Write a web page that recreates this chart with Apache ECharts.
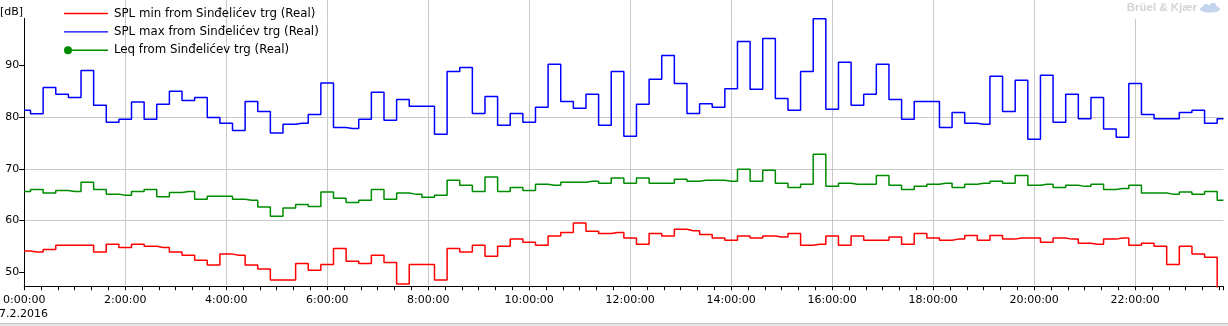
<!DOCTYPE html>
<html><head><meta charset="utf-8">
<script src="https://cdn.jsdelivr.net/npm/echarts@6/dist/echarts.min.js"></script>
<style>html,body{margin:0;padding:0;background:#fff;overflow:hidden}#c{width:1228px;height:326px}</style>
</head><body><div id="c"></div>
<script>
const seriesNames = [
  'SPL min from Sinđelićev trg (Real)',
  'SPL max from Sinđelićev trg (Real)',
  'Leq from Sinđelićev trg (Real)'
];
const stepMinutes = 15;
const endMinute = 1425;
const splMin = [
  54.1,53.9,54.4,55.2,55.2,55.2,53.9,55.4,54.8,55.4,55.0,54.8,53.9,53.3,52.3,51.4,
  53.5,53.3,51.4,50.6,48.5,48.5,51.7,50.4,51.5,54.6,52.1,51.7,53.3,51.9,47.7,51.5,
  51.5,48.5,54.6,53.9,55.2,53.1,55.0,56.4,55.8,55.2,57.0,57.7,59.5,57.9,57.5,57.7,
  56.6,55.4,57.5,57.0,58.3,58.0,57.3,56.6,56.2,57.0,56.6,57.0,56.8,57.5,55.2,55.4,
  57.0,55.2,57.0,56.2,56.2,56.8,55.4,57.5,56.6,56.2,56.4,57.1,56.2,57.1,56.4,56.6,
  56.6,55.8,56.6,56.4,55.6,55.4,56.4,56.6,55.2,55.6,55.0,51.5,55.0,53.5,52.9,46.0
];
const splMax = [
  81.3,80.65,85.7,84.4,83.8,89.0,82.3,79.0,79.6,82.9,79.6,82.5,85.0,83.2,83.8,79.9,
  78.8,77.4,83.0,81.1,76.9,78.6,78.8,80.5,86.6,78.0,77.8,79.6,84.8,79.4,83.4,82.1,
  82.1,76.7,88.8,89.6,80.7,84.0,78.4,80.7,79.0,81.9,90.2,83.0,81.7,84.4,78.4,88.8,
  76.3,82.5,87.3,91.9,86.5,80.7,82.6,81.9,85.5,94.6,85.4,95.2,83.6,81.3,88.8,99.0,
  81.5,90.6,82.3,84.4,90.2,83.4,79.6,83.0,83.0,78.0,80.9,78.8,78.6,87.9,81.1,87.1,
  75.7,88.1,79.0,84.4,79.7,83.8,77.7,76.1,86.5,80.5,79.7,79.7,80.9,81.3,78.8,79.7
];
const leq = [
  65.6,66.0,65.3,65.8,65.6,67.4,66.0,65.1,64.9,65.6,66.0,64.6,65.4,65.6,64.1,64.7,
  64.7,64.1,63.9,62.6,60.8,62.4,63.1,62.7,65.5,64.3,63.5,63.9,66.0,64.1,65.3,65.1,
  64.5,64.9,67.8,66.8,65.6,68.4,65.6,66.4,65.8,67.0,66.8,67.4,67.4,67.6,67.2,68.2,
  67.2,68.2,67.2,67.2,68.0,67.6,67.8,67.8,67.6,69.9,67.6,69.7,67.2,66.4,67.0,72.8,
  66.6,67.2,67.0,67.0,68.7,66.8,66.0,66.6,67.0,67.2,66.4,67.0,67.2,67.6,67.2,68.7,
  66.8,67.0,66.4,66.8,66.6,67.0,66.0,66.2,66.8,65.3,65.3,65.1,65.5,65.1,65.6,63.9
];
const yTickValues = [50, 60, 70, 80, 90];
const xLabelHours = [0, 2, 4, 6, 8, 10, 12, 14, 16, 18, 20, 22];
const dateLabel = '7.2.2016';
const yUnit = '[dB]';
const logoText = 'Brüel & Kjær';

const times = splMax.map((_, i) => i * stepMinutes);
const pairs = arr => arr.map((v, i) => [times[i], v]);
const F = 'DejaVu Sans';
const gridColor = '#c8c8c8';
const lineIcon = 'path://M0,0L0.01,0M0,8L0.01,8M0,3.3H44V4.7H0Z';
const dotLineIcon = 'path://M0,4A4,4,0,1,1,8,4A4,4,0,1,1,0,4ZM6,3.2H44V4.8H6Z';
const logoBlue = '#c3d4ee';

const chart = echarts.init(document.getElementById('c'), null, {renderer: 'canvas'});
chart.setOption({
  animation: false,
  backgroundColor: '#fff',
  grid: [
    {left: 24, right: 4.5, top: 18.3, bottom: 39.3, containLabel: false},
    {left: 24, right: 4.5, top: 0, height: 18.3, containLabel: false}
  ],
  legend: {
    orient: 'vertical', left: 64, top: 7.5, padding: 0, itemWidth: 44, itemHeight: 8, itemGap: 6.4,
    selectedMode: false, symbolKeepAspect: false,
    textStyle: {fontFamily: F, fontSize: 11.8, color: '#000', lineHeight: 12, padding: [0, 0, 0, 1]},
    data: [
      {name: seriesNames[0], icon: lineIcon},
      {name: seriesNames[1], icon: lineIcon},
      {name: seriesNames[2], icon: dotLineIcon}
    ]
  },
  xAxis: [
    {
      gridIndex: 0, type: 'value', min: 0, max: endMinute, interval: 120, position: 'bottom',
      axisLine: {show: true, lineStyle: {color: '#000', width: 1}},
      axisTick: {show: false},
      axisLabel: {
        show: true, showMaxLabel: false, margin: 7.5, color: '#000', fontFamily: F, fontSize: 11,
        formatter: v => (xLabelHours.indexOf(v / 60) >= 0 ? (v / 60) + ':00:00' : '')
      },
      splitLine: {show: true, showMinLine: false, showMaxLine: false, lineStyle: {color: gridColor, width: 1}}
    },
    {
      gridIndex: 0, type: 'value', min: 0, max: endMinute, interval: 20, position: 'bottom',
      axisLine: {show: false}, axisLabel: {show: false}, splitLine: {show: false},
      axisTick: {show: true, length: 3.5, lineStyle: {color: '#000', width: 1}}
    },
    {
      gridIndex: 1, type: 'value', min: 0, max: endMinute, interval: 120, position: 'bottom',
      axisLine: {show: false}, axisTick: {show: false}, axisLabel: {show: false},
      splitLine: {show: true, showMinLine: false, showMaxLine: false, lineStyle: {color: gridColor, width: 1}}
    }
  ],
  yAxis: [
    {
      gridIndex: 0, type: 'value', min: 47.2, max: 99.1,
      axisLine: {show: true, lineStyle: {color: '#000', width: 1}},
      axisTick: {show: true, length: 5, customValues: yTickValues, lineStyle: {color: '#000'}},
      axisLabel: {show: true, customValues: yTickValues, margin: 5, color: '#000', fontFamily: F, fontSize: 11},
      splitLine: {show: true, showMinLine: false, showMaxLine: false, lineStyle: {color: gridColor, width: 1}}
    },
    {gridIndex: 1, type: 'value', min: 0, max: 1, show: false}
  ],
  series: [
    {name: seriesNames[0], type: 'line', step: 'middle', symbol: 'none', data: pairs(splMin),
     color: '#ff0000', itemStyle: {color: '#ff0000'}, lineStyle: {color: '#ff0000', width: 1.5}, silent: true},
    {name: seriesNames[1], type: 'line', step: 'middle', symbol: 'none', data: pairs(splMax),
     color: '#0000ff', itemStyle: {color: '#0000ff'}, lineStyle: {color: '#0000ff', width: 1.5}, silent: true},
    {name: seriesNames[2], type: 'line', step: 'middle', symbol: 'circle', showSymbol: false, data: pairs(leq),
     color: '#008c00', itemStyle: {color: '#008c00'}, lineStyle: {color: '#008c00', width: 1.5}, silent: true}
  ],
  graphic: [
    {type: 'text', x: 0, y: 12, style: {text: yUnit, font: '11px "DejaVu Sans"', fill: '#000', textVerticalAlign: 'middle'}},
    {type: 'text', x: -1, y: 314, style: {text: dateLabel, font: '11px "DejaVu Sans"', fill: '#000', textVerticalAlign: 'middle'}},
    {type: 'rect', shape: {x: 1116, y: 0, width: 112, height: 19}, style: {fill: '#fff'}, z: 50},
    {type: 'text', x: 1197, y: 8, z: 51, style: {text: logoText, font: 'bold 11.5px "Liberation Sans"', fill: '#d4d4d4', textAlign: 'right', textVerticalAlign: 'middle'}},
    {type: 'ellipse', z: 51, shape: {cx: 1210, cy: 9, rx: 10, ry: 3.5}, style: {fill: logoBlue}},
    {type: 'circle', z: 51, shape: {cx: 1206, cy: 7, r: 3}, style: {fill: logoBlue}},
    {type: 'circle', z: 51, shape: {cx: 1213, cy: 6.5, r: 3.5}, style: {fill: logoBlue}},
    {type: 'rect', shape: {x: 0, y: 323, width: 1228, height: 3}, style: {fill: '#e6e6e6'}},
    {type: 'line', shape: {x1: 0, y1: 323.5, x2: 1228, y2: 323.5}, style: {stroke: '#c4c4c4', lineWidth: 1}}
  ]
});
</script></body></html>
